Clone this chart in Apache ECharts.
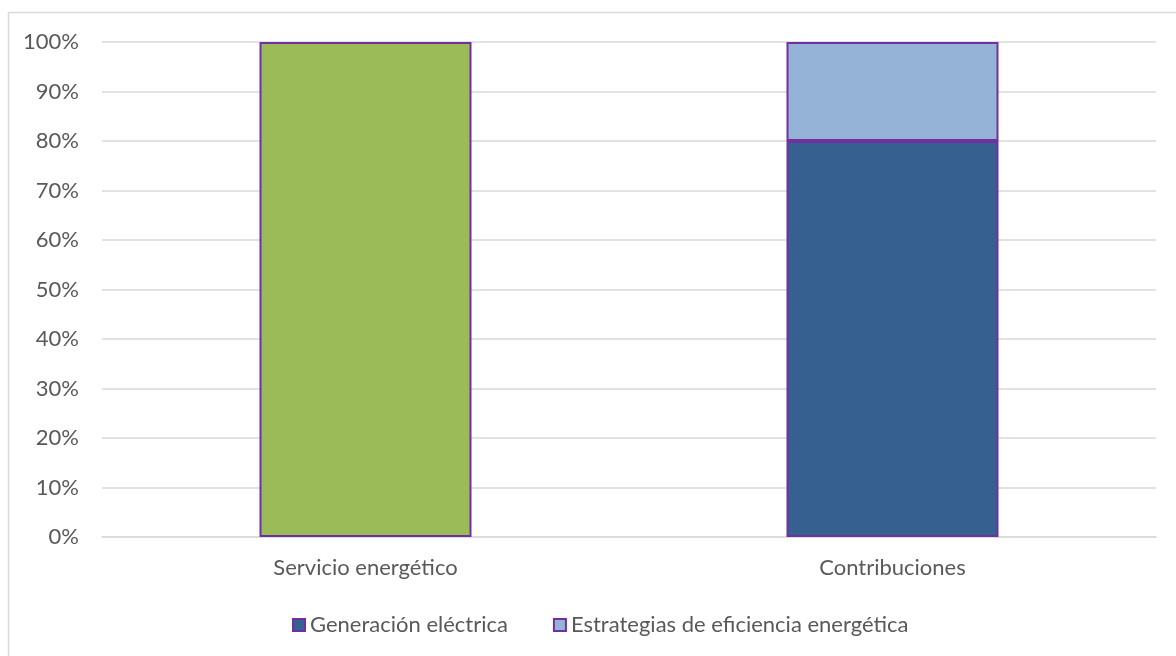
<!DOCTYPE html>
<html>
<head>
<meta charset="utf-8">
<script src="https://cdn.jsdelivr.net/npm/echarts@6/dist/echarts.min.js"></script>
<style>
  html, body { margin: 0; padding: 0; background: #fff; }
  #main { width: 1176px; height: 656px; }
</style>
</head>
<body>
<div id="main"></div>
<script>
// datos del gráfico
var categories = ['Servicio energético', 'Contribuciones'];
var servicio = [100, '-'];
var generacion = ['-', 80];
var estrategias = ['-', 20];
var yTicks = [0, 100, 10];

var borde = '#7030a0';
var texto = '#595959';
var fuente = 'Lato';

var myChart = echarts.init(document.getElementById('main'));

var option = {
    backgroundColor: '#ffffff',
    animation: false,
    textStyle: { fontFamily: fuente },
    graphic: [{
        type: 'rect',
        shape: { x: 8.5, y: 12.5, width: 1180, height: 660 },
        style: { fill: 'none', stroke: '#d9d9d9', lineWidth: 1.5 },
        silent: true
    }],
    grid: { left: 102, right: 20, top: 42, bottom: 119, containLabel: false },
    legend: {
        data: ['Generación eléctrica', 'Estrategias de eficiencia energética'],
        left: 287,
        top: 609,
        itemWidth: 12,
        itemHeight: 12,
        itemGap: 45,
        icon: 'rect',
        textStyle: { color: texto, fontSize: 22, fontFamily: fuente, padding: [0, 0, 0, 0] }
    },
    xAxis: {
        type: 'category',
        data: categories,
        axisLine: { lineStyle: { color: '#d9d9d9', width: 1.5 } },
        axisTick: { show: false },
        axisLabel: { color: texto, fontSize: 22, margin: 20, fontFamily: fuente }
    },
    yAxis: {
        type: 'value',
        min: yTicks[0],
        max: yTicks[1],
        interval: yTicks[2],
        axisLine: { show: false },
        axisTick: { show: false },
        splitLine: { lineStyle: { color: '#d9d9d9', width: 1.5 } },
        axisLabel: { color: texto, fontSize: 22, margin: 23, formatter: '{value}%', fontFamily: fuente }
    },
    series: [
        {
            name: 'Servicio energético',
            type: 'bar',
            stack: 'total',
            barWidth: 212,
            data: servicio,
            itemStyle: { color: '#9bbb59', borderColor: borde, borderWidth: 2 }
        },
        {
            name: 'Generación eléctrica',
            type: 'bar',
            stack: 'total',
            barWidth: 212,
            data: generacion,
            itemStyle: { color: '#35608f', borderColor: borde, borderWidth: 2 }
        },
        {
            name: 'Estrategias de eficiencia energética',
            type: 'bar',
            stack: 'total',
            barWidth: 212,
            data: estrategias,
            itemStyle: { color: '#95b3d7', borderColor: borde, borderWidth: 2 }
        }
    ]
};

myChart.setOption(option);
</script>
</body>
</html>
